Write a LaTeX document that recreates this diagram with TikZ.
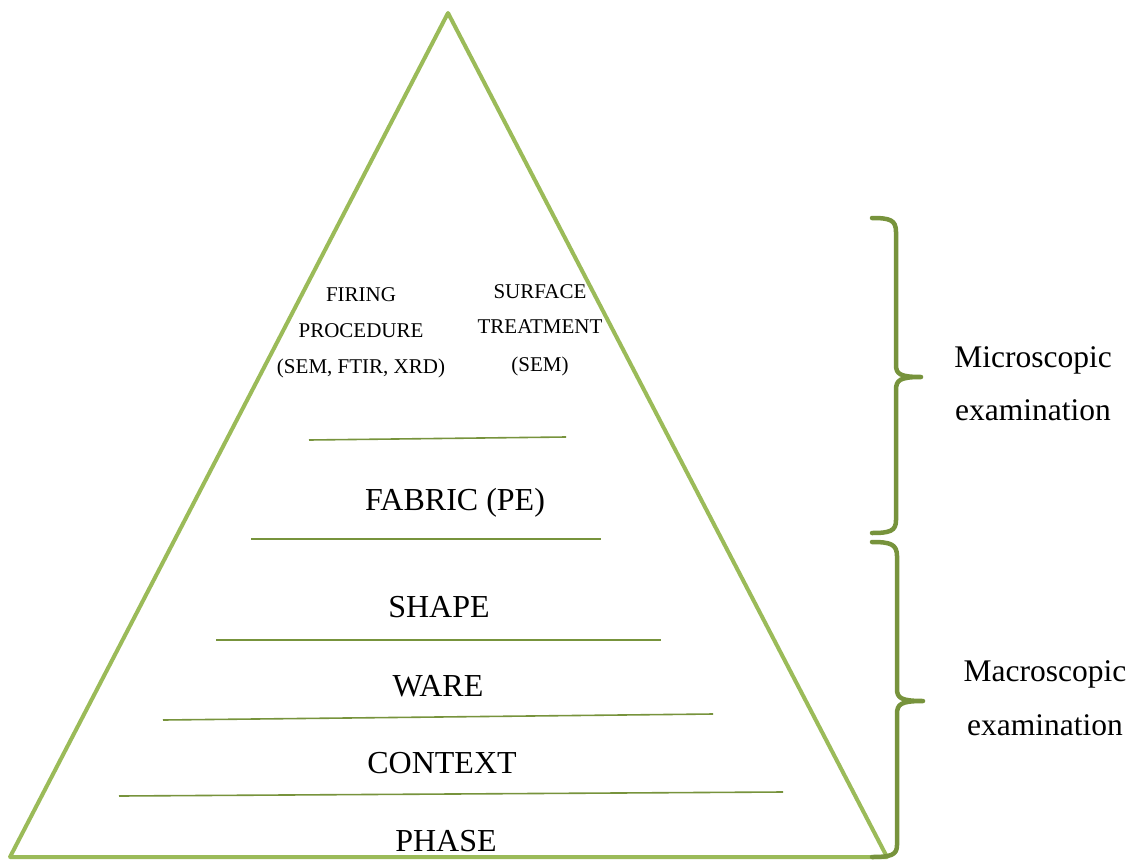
\documentclass[tikz,border=0pt]{standalone}
\usepackage{fontspec}
\setmainfont{Liberation Serif}
\definecolor{pyrgreen}{HTML}{9BBB59}
\definecolor{bracegreen}{HTML}{77933C}
\begin{document}
\begin{tikzpicture}[x=1pt,y=-1pt,
  pyramid/.style={draw=pyrgreen,line width=4pt,line join=round},
  divider/.style={draw=bracegreen,line width=1.6pt},
  bracket/.style={draw=bracegreen,line width=4.5pt,line cap=round,line join=round},
  small/.style={font=\fontsize{21}{24}\selectfont,anchor=base,inner sep=0pt},
  big/.style={font=\fontsize{32}{36}\selectfont,anchor=base,inner sep=0pt},
  side/.style={font=\fontsize{31.5}{36}\selectfont,anchor=base,inner sep=0pt}]
\useasboundingbox (0,0) rectangle (1131,861);

% pyramid outline
\coordinate (apex) at (448,13);
\coordinate (bl) at (10,857);
\coordinate (br) at (887,857);
\draw[pyramid] (apex) -- (br) -- (bl) -- cycle;

% level dividers
\coordinate (d1a) at (309,440); \coordinate (d1b) at (566,437);
\coordinate (d2a) at (251,539); \coordinate (d2b) at (601,539);
\coordinate (d3a) at (216,640); \coordinate (d3b) at (661,640);
\coordinate (d4a) at (163,720); \coordinate (d4b) at (713,714);
\coordinate (d5a) at (119,796); \coordinate (d5b) at (783,792);
\foreach \i in {1,...,5} \draw[divider] (d\i a) -- (d\i b);

% top level labels
\node[small] (fir1) at (361,301) {FIRING};
\node[small] (fir2) at (361,337) {PROCEDURE};
\node[small] (fir3) at (361,373) {(SEM, FTIR, XRD)};
\node[small] (sur1) at (540,298) {SURFACE};
\node[small] (sur2) at (540,333) {TREATMENT};
\node[small] (sur3) at (540,371) {(SEM)};

% main levels
\node[big] (fabric) at (455,510) {FABRIC (PE)};
\node[big] (shape) at (439,617) {SHAPE};
\node[big] (ware) at (438,696) {WARE};
\node[big] (context) at (442,773) {CONTEXT};
\node[big] (phase) at (446,851) {PHASE};

% braces on the right
\draw[bracket] (872,218) .. controls (890,218) and (896,220) .. (896,232)
  -- (896,365) .. controls (896,374) and (900,377) .. (921,377)
  .. controls (900,377) and (896,380) .. (896,390)
  -- (896,520) .. controls (896,531) and (890,533) .. (872,533);
\draw[bracket] (872,542) .. controls (890,542) and (897,544) .. (897,556)
  -- (897,689) .. controls (897,698) and (901,701) .. (923,701)
  .. controls (901,701) and (897,704) .. (897,714)
  -- (897,845) .. controls (897,855) and (891,857) .. (872,857);

\node[side] (mic1) at (1033,367) {Microscopic};
\node[side] (mic2) at (1033,420) {examination};
\node[side] (mac1) at (1045,681) {Macroscopic};
\node[side] (mac2) at (1045,735) {examination};
\end{tikzpicture}
\end{document}
